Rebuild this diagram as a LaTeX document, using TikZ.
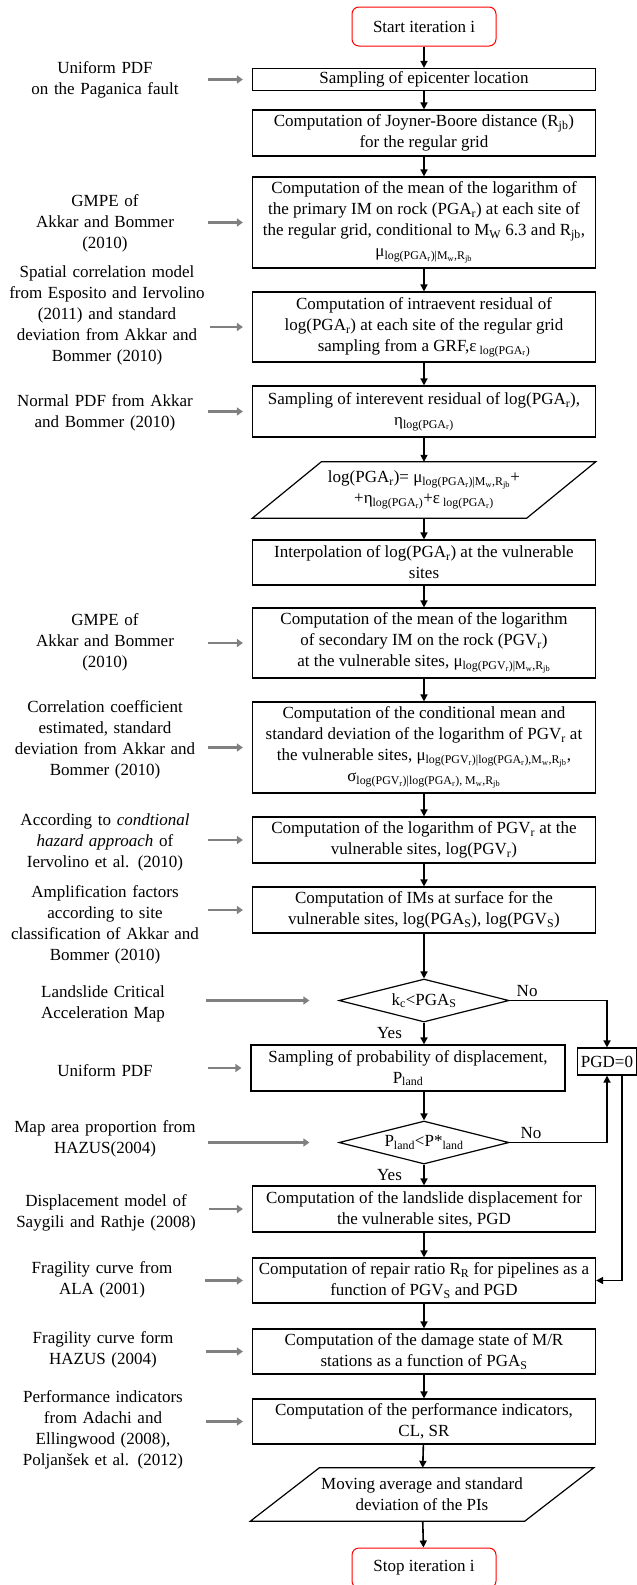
\documentclass[tikz,border=0pt]{standalone}
\usepackage{fontspec}
\setmainfont{Liberation Serif}
\usetikzlibrary{arrows.meta,shapes.geometric}

\newcommand{\subx}[1]{\textsubscript{#1}}

\begin{document}
\begin{tikzpicture}[x=1pt, y=-1pt,
    every node/.style={font=\fontsize{17}{21}\selectfont},
    procbox/.style={draw, line width=1.2pt, align=center, minimum width=343pt, inner sep=0pt},
    termbox/.style={draw=red, line width=1pt, rounded corners=7pt, minimum width=144pt, minimum height=39pt},
    iobox/.style={align=center, minimum width=343pt, inner sep=0pt},
    testdia/.style={draw, diamond, aspect=4, line width=1.2pt, inner sep=0pt, minimum width=170pt, minimum height=43pt},
    sidenote/.style={align=center, text width=196pt, inner sep=0pt},
    flowarrow/.style={-{Triangle[length=7pt,width=7pt]}, line width=1.6pt},
    sidearrow/.style={-{Triangle[length=6pt,width=8pt]}, line width=2.6pt, gray, shorten <=5pt, shorten >=9pt}]
    \useasboundingbox (0,0) rectangle (637,1585);

    % main column
    \node[termbox] (start) at (424,26.5) {Start iteration i};
    \node[procbox, minimum height=22pt] (epi) at (424,79.5) {Sampling of epicenter location};
    \node[procbox, minimum height=46pt] (joyner) at (424,133) {Computation of  Joyner-Boore  distance (R\subx{jb})\\for the regular grid};
    \node[procbox, minimum height=91pt] (gmpe) at (424,222.5) {Computation of the mean of the logarithm of\\the primary IM on rock (PGA\subx{r}) at each site of\\the regular grid, conditional to M\subx{W} 6.3 and R\subx{jb},\\μ\subx{log(PGA\subx{r})|M\subx{w},R\subx{jb}}};
    \node[procbox, minimum height=70pt] (intra) at (424,327) {Computation of intraevent residual of\\log(PGA\subx{r}) at each site of the regular grid\\sampling from a GRF,ε\subx{ log(PGA\subx{r})}};
    \node[procbox, minimum height=51pt] (inter) at (424,411.5) {Sampling of interevent residual of log(PGA\subx{r}),\\η\subx{log(PGA\subx{r})}};
    \node[iobox, minimum height=56pt] (logeq) at (424,490) {log(PGA\subx{r})= μ\subx{log(PGA\subx{r})|M\subx{w},R\subx{jb}}+\\+η\subx{log(PGA\subx{r})}+ε\subx{ log(PGA\subx{r})}};
    \draw[line width=1.2pt] (logeq.south west) -- ([xshift=69pt]logeq.north west) -- (logeq.north east) -- ([xshift=-69pt]logeq.south east) -- cycle;
    \node[procbox, minimum height=45pt] (interp) at (424,562.5) {Interpolation of  log(PGA\subx{r}) at the vulnerable\\sites};
    \node[procbox, minimum height=70pt] (gmpe2) at (424,643) {Computation of the mean of the logarithm\\of secondary IM on the rock (PGV\subx{r})\\at the vulnerable sites, μ\subx{log(PGV\subx{r})|M\subx{w},R\subx{jb}}};
    \node[procbox, minimum height=91pt] (cond) at (424,747.5) {Computation of the conditional mean and\\standard deviation of the logarithm of PGV\subx{r} at\\the vulnerable sites, μ\subx{log(PGV\subx{r})|log(PGA\subx{r}),M\subx{w},R\subx{jb}},\\σ\subx{log(PGV\subx{r})|log(PGA\subx{r}), M\subx{w},R\subx{jb}}};
    \node[procbox, minimum height=46pt] (logpgv) at (424,840) {Computation of the logarithm of PGV\subx{r} at the\\vulnerable sites, log(PGV\subx{r})};
    \node[procbox, minimum height=46pt] (ims) at (424,910) {Computation of  IMs at surface for the\\vulnerable sites, log(PGA\subx{S}), log(PGV\subx{S})};
    \node[testdia] (dia1) at (424,1000.5) {k\subx{c}<PGA\subx{S}};
    \node[procbox, minimum width=314pt, minimum height=46pt] (samp) at (408,1068) {Sampling of probability of displacement,\\P\subx{land}};
    \node[procbox, minimum width=59pt, minimum height=27pt] (pgd) at (607,1061.5) {PGD=0};
    \node[testdia] (dia2) at (424,1142.5) {P\subx{land}<P*\subx{land}};
    \node[procbox, minimum height=46pt] (disp) at (424,1209) {Computation of  the landslide displacement for\\the vulnerable sites, PGD};
    \node[procbox, minimum height=45pt] (repair) at (424,1280.5) {Computation of repair ratio R\subx{R} for pipelines as a\\function of PGV\subx{S} and PGD};
    \node[procbox, minimum height=45pt] (damage) at (424,1351.5) {Computation of the damage state of M/R\\stations as a function of  PGA\subx{S}};
    \node[procbox, minimum height=45pt] (perf) at (424,1421.5) {Computation of the performance indicators,\\CL, SR};
    \node[iobox, minimum height=53pt] (moving) at (422,1494.5) {Moving average and standard\\deviation of the PIs};
    \draw[line width=1.2pt] (moving.south west) -- ([xshift=69pt]moving.north west) -- (moving.north east) -- ([xshift=-69pt]moving.south east) -- cycle;
    \node[termbox, minimum height=40pt] (stop) at (424,1568) {Stop iteration i};

    % inputs on the left
    \node[sidenote] (lab1) at (105,79.5) {Uniform PDF\\on the Paganica fault};
    \node[sidenote] (lab2) at (105,223) {GMPE of\\Akkar and Bommer\\(2010)};
    \node[sidenote] (lab3) at (107,315) {Spatial correlation model\\from Esposito and Iervolino\\(2011) and standard\\deviation from Akkar and\\Bommer (2010)};
    \node[sidenote] (lab4) at (105,413) {Normal PDF from Akkar\\and Bommer (2010)};
    \node[sidenote] (lab5) at (105,642) {GMPE of\\Akkar and Bommer\\(2010)};
    \node[sidenote] (lab6) at (105,740) {Correlation coefficient\\estimated, standard\\deviation from Akkar and\\Bommer (2010)};
    \node[sidenote] (lab7) at (105,842) {According to \textit{condtional}\\\textit{hazard approach} of\\Iervolino et al. (2010)};
    \node[sidenote] (lab8) at (105,925) {Amplification factors\\according to site\\classification of  Akkar and\\Bommer (2010)};
    \node[sidenote] (lab9) at (103,1004) {Landslide Critical\\Acceleration Map};
    \node[sidenote] (lab10) at (105,1071) {Uniform PDF};
    \node[sidenote] (lab11) at (105,1139) {Map area proportion from\\HAZUS(2004)};
    \node[sidenote] (lab12) at (106,1213) {Displacement model of\\Saygili and Rathje (2008)};
    \node[sidenote] (lab13) at (102,1280) {Fragility curve from\\ALA (2001)};
    \node[sidenote] (lab14) at (103,1350) {Fragility curve form\\HAZUS (2004)};
    \node[sidenote] (lab15) at (103,1430) {Performance indicators\\from Adachi and\\Ellingwood (2008),\\Poljanšek et al. (2012)};

    % flow
    \draw[flowarrow] (start) -- (epi);
    \draw[flowarrow] (epi) -- (joyner);
    \draw[flowarrow] (joyner) -- (gmpe);
    \draw[flowarrow] (gmpe) -- (intra);
    \draw[flowarrow] (intra) -- (inter);
    \draw[flowarrow] (inter) -- (logeq);
    \draw[flowarrow] (logeq) -- (interp);
    \draw[flowarrow] (interp) -- (gmpe2);
    \draw[flowarrow] (gmpe2) -- (cond);
    \draw[flowarrow] (cond) -- (logpgv);
    \draw[flowarrow] (logpgv) -- (ims);
    \draw[flowarrow] (ims) -- (dia1);
    \draw[flowarrow] (dia1.south) -- node[left=18pt] {Yes} (dia1.south |- samp.north);
    \draw[flowarrow] (samp.south -| dia2) -- (dia2);
    \draw[flowarrow] (dia2.south) -- node[left=18pt] {Yes} (disp);
    \draw[flowarrow] (disp) -- (repair);
    \draw[flowarrow] (repair) -- (damage);
    \draw[flowarrow] (damage) -- (perf);
    \draw[flowarrow] (perf) -- (moving);
    \draw[flowarrow] (moving) -- (stop);

    % no branches
    \draw[flowarrow] (dia1.east) -| node[pos=0.09, above] {No} (pgd.north);
    \draw[flowarrow] (dia2.east) -| node[pos=0.11, above] {No} (pgd.south);
    \draw[flowarrow] ([xshift=15pt]pgd.south) |- (repair.east);

    % inputs
    \draw[sidearrow] (lab1.east |- epi.west) -- (epi.west);
    \draw[sidearrow] (lab2.east |- gmpe.west) -- (gmpe.west);
    \draw[sidearrow] (lab3.east |- intra.west) -- (intra.west);
    \draw[sidearrow] (lab4.east |- inter.west) -- (inter.west);
    \draw[sidearrow] (lab5.east |- gmpe2.west) -- (gmpe2.west);
    \draw[sidearrow] (lab6.east |- cond.west) -- (cond.west);
    \draw[sidearrow] (lab7.east |- logpgv.west) -- (logpgv.west);
    \draw[sidearrow] (lab8.east |- ims.west) -- (ims.west);
    \draw[sidearrow, shorten >=29pt] (lab9.east |- dia1.west) -- (dia1.west);
    \draw[sidearrow] (lab10.east |- samp.west) -- (samp.west);
    \draw[sidearrow, shorten >=29pt] (lab11.east |- dia2.west) -- (dia2.west);
    \draw[sidearrow] (lab12.east |- disp.west) -- (disp.west);
    \draw[sidearrow] (lab13.east |- repair.west) -- (repair.west);
    \draw[sidearrow] (lab14.east |- damage.west) -- (damage.west);
    \draw[sidearrow] (lab15.east |- perf.west) -- (perf.west);
\end{tikzpicture}
\end{document}
